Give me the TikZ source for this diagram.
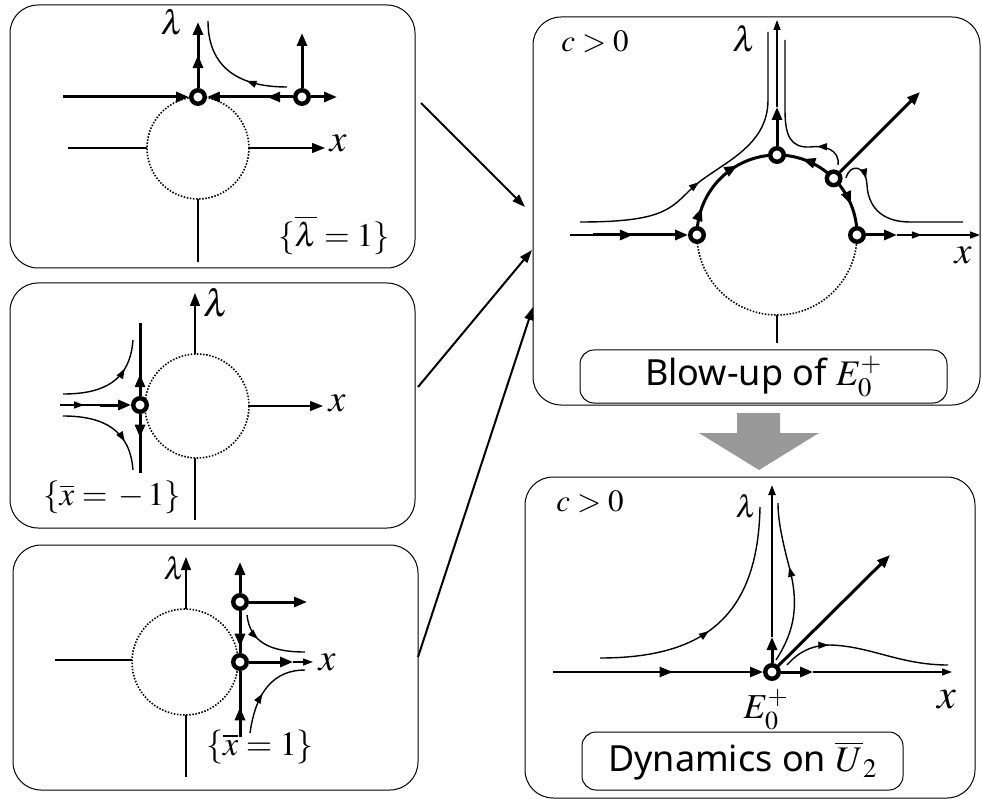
\documentclass[tikz,border=0pt]{standalone}
\usepackage{mathptmx}
\usepackage[no-math]{fontspec}
\setsansfont{Noto Sans}
\usepackage{tikz}
\usetikzlibrary{arrows.meta, positioning, calc, decorations.markings}
\definecolor{arrgray}{HTML}{999999}
\newcommand{\fsz}[1]{\fontsize{#1}{#1}\selectfont}
\tikzset{
  bigtip/.tip={Triangle[length=13pt,width=10pt]},
  smalltip/.tip={Triangle[length=10pt,width=7pt]},
  panel/.style={draw, line width=1pt, rounded corners=28pt, inner sep=0pt, outer sep=0pt},
  tagbox/.style={draw, line width=1pt, rounded corners=14pt, inner sep=0pt,
    font=\sffamily\fsz{36}},
  eqpt/.style={circle, draw, fill=white, line width=4.4pt, minimum size=13.5pt, inner sep=0pt},
  trj/.style={line width=1.4pt},
  axisln/.style={line width=1.4pt},
  midln/.style={line width=2.2pt},
  heavy/.style={line width=3pt},
  dotln/.style={line width=1.6pt, dash pattern=on 1.5pt off 1.6pt},
  fwd/.style={postaction={decorate,decoration={markings,
    mark=at position #1 with {\arrow{bigtip}}}}},
  fwds/.style={postaction={decorate,decoration={markings,
    mark=at position #1 with {\arrow{smalltip}}}}},
  link/.style={line width=2pt, -{Triangle[length=13pt,width=9pt]}},
  lab/.style={font=\fsz{#1}, inner sep=0pt}
}

\begin{document}
\begin{tikzpicture}[x=1pt, y=-1pt]
  \useasboundingbox (0,0) rectangle (982,799);

  % frames
  \node[panel, minimum width=405pt, minimum height=263pt] (pl1) at (212.5,136.5) {};
  \node[panel, minimum width=405pt, minimum height=245pt] (pl2) at (212.5,405.5) {};
  \node[panel, minimum width=405pt, minimum height=245pt] (pl3) at (215.5,667.5) {};
  \node[panel, minimum width=447pt, minimum height=388pt] (pl4) at (756.5,211) {};
  \node[panel, minimum width=450pt, minimum height=321pt] (pl5) at (750,637.5) {};

  % chart {lambda-bar = 1}
  \draw[dotln] (198,148) circle[radius=51];
  \draw[axisln] (68,148) -- (147,148);
  \draw[axisln,-bigtip] (249,148) -- (325,148);
  \draw[axisln] (198,199) -- (198,262);
  \node[eqpt] (a1) at (198,97) {};
  \node[eqpt] (a2) at (302,97) {};
  \draw[heavy,-bigtip] (63,97) -- (a1);
  \draw[heavy,-bigtip,fwd=0.3] (a2) -- (a1);
  \draw[heavy,-bigtip] (a2) -- (337,97);
  \draw[heavy,-bigtip] (a2) -- (302,33);
  \draw[heavy,-bigtip,fwd=0.5] (a1) -- (198,22);
  \draw[trj,fwds=0.35] (287,87) .. controls (232,87) and (208,62) .. (208,21);
  \node[lab=34] (la1) at (172,22) {$\lambda$};
  \node[lab=38] (lx1) at (338,143) {$x$};
  \node[lab=33] (ch1) at (334,235) {$\{\overline{\lambda}=1\}$};

  % chart {x-bar = -1}
  \draw[dotln] (197,406) circle[radius=52];
  \draw[axisln,-bigtip] (249,406) -- (323,406);
  \draw[axisln,-bigtip] (195,354) -- (195,293);
  \draw[axisln] (195,458) -- (195,520);
  \node[eqpt] (b1) at (140,405) {};
  \draw[heavy,fwd=0.3] (b1) -- (140,323);
  \draw[heavy,fwd=0.4] (b1) -- (140,473);
  \draw[trj,fwds=0.6] (60,405) -- (100,405);
  \draw[heavy,-bigtip] (100,405) -- (b1);
  \draw[trj,fwds=0.7] (63,394) .. controls (105,394) and (130,380) .. (133,340);
  \draw[trj,fwds=0.7] (63,416) .. controls (105,416) and (130,431) .. (133,470);
  \node[lab=38] (la2) at (216,303) {$\lambda$};
  \node[lab=38] (lx2) at (337,403) {$x$};
  \node[lab=33] (ch2) at (112,497) {$\{\overline{x}=\,-\,1\}$};

  % chart {x-bar = 1}
  \draw[dotln] (185,662) circle[radius=53];
  \draw[axisln] (55,660) -- (132,660);
  \draw[axisln,-bigtip] (186,609) -- (186,557);
  \draw[axisln] (186,715) -- (186,777);
  \node[eqpt] (c1) at (240,602) {};
  \node[eqpt] (c2) at (240,662) {};
  \draw[heavy,-bigtip] (c1) -- (240,562);
  \draw[heavy,fwd=0.85] (c1) -- (c2);
  \draw[heavy,fwd=0.45] (240,737) -- (c2);
  \draw[heavy,-bigtip] (c1) -- (307,602);
  \draw[heavy,-bigtip] (c2) -- (293,662);
  \draw[trj,-smalltip] (293,662) -- (313,662);
  \draw[trj,fwds=0.35] (247,615) .. controls (250,642) and (270,652) .. (305,652);
  \draw[trj,fwds=0.45] (250,733) .. controls (256,690) and (275,670) .. (305,670);
  \node[lab=31] (la3) at (174,568) {$\lambda$};
  \node[lab=38] (lx3) at (327,662) {$x$};
  \node[lab=34] (ch3) at (260,747) {$\{\overline{x}=1\}$};

  % blow-up of E0+
  \coordinate (dL) at (697,235);
  \coordinate (dT) at (777,155);
  \coordinate (dD) at (833.6,178.4);
  \coordinate (dR) at (857,235);
  \coordinate (dB) at (777,315);
  \draw[dotln] (dR) arc[start angle=0, end angle=180, radius=80];
  \draw[heavy,fwd=0.22,fwd=0.67] (dL) arc[start angle=180, end angle=270, radius=80];
  \draw[heavy,fwd=0.59] (dD) arc[start angle=315, end angle=270, radius=80];
  \draw[heavy,fwd=0.5] (dD) arc[start angle=315, end angle=360, radius=80];
  \draw[axisln] (dB) -- (777,343);
  \node[eqpt] (eL) at (dL) {};
  \node[eqpt] (eT) at (dT) {};
  \node[eqpt] (eD) at (dD) {};
  \node[eqpt] (eR) at (dR) {};
  \draw[trj] (570,235) -- (593,235);
  \draw[heavy,-bigtip,fwd=0.42] (593,235) -- (eL);
  \draw[heavy,-bigtip] (eR) -- (897,235);
  \draw[trj,-smalltip,fwds=0.3] (897,235) -- (980,235);
  \draw[heavy,-bigtip] (eT) -- (777,107);
  \draw[trj,-smalltip] (777,107) -- (777,20);
  \draw[heavy,-bigtip] (eD) -- (920,92);
  \draw[trj,fwds=0.42] (580,222) .. controls (660,222) and (670,210) .. (690,190)
    .. controls (715,165) and (768,150) .. (768,100) -- (768,32);
  \draw[trj,fwds=0.2] (838,165) .. controls (840,150) and (825,145) .. (810,147)
    .. controls (790,148) and (785,135) .. (785,110) -- (785,40);
  \draw[trj,fwds=0.2] (846,178) .. controls (850,163) and (866,165) .. (867,185)
    .. controls (868,205) and (880,222) .. (910,222) -- (963,222);
  \node[lab=31] (cp1) at (595,42) {$c>0$};
  \node[lab=35] (la4) at (744,39) {$\lambda$};
  \node[lab=38] (lx4) at (963,255) {$x$};
  \node[tagbox, minimum width=367pt, minimum height=53pt] (tg1) at (763.5,376.5)
    {Blow-up of $E_0^+$};

  % step down
  \fill[arrgray] (737,413) -- (780,413) -- (780,433) -- (819,433) -- (759,470)
    -- (699,433) -- (737,433) -- cycle;

  % dynamics on U2
  \node[eqpt] (eE) at (772,672) {};
  \draw[midln,-bigtip,fwd=0.57] (553,672) -- (eE);
  \draw[heavy,-bigtip] (eE) -- (813,672);
  \draw[trj,-smalltip] (813,672) -- (952,672);
  \draw[heavy,-bigtip] (eE) -- (772,637);
  \draw[midln,-smalltip] (772,637) -- (772,485);
  \draw[heavy,-bigtip] (eE) -- (890,555);
  \draw[trj,fwds=0.45] (600,658) .. controls (700,658) and (758,620) .. (760,507);
  \draw[trj,fwds=0.6] (776,660) .. controls (792,635) and (800,610) .. (790,570)
    .. controls (782,540) and (778,520) .. (778,503);
  \draw[trj,fwds=0.28] (787,665) .. controls (800,650) and (815,645) .. (830,645)
    .. controls (870,646) and (900,665) .. (948,665);
  \node[lab=31] (cp2) at (590,502) {$c>0$};
  \node[lab=31] (la5) at (746,506) {$\lambda$};
  \node[lab=42] (lx5) at (947,700) {$x$};
  \node[lab=35] (le5) at (766,710) {$E_0^+$};
  \node[tagbox, minimum width=321pt, minimum height=58pt] (tg2) at (742.5,761)
    {Dynamics on $\overline{U}_2$};

  % charts into the blow-up
  \draw[link] ([xshift=6pt,yshift=33.5pt]pl1.east) -- ([xshift=-8pt,yshift=4pt]pl4.west);
  \draw[link] ([xshift=3pt,yshift=18.5pt]pl2.east) -- ([xshift=-1pt,yshift=-39pt]pl4.west);
  \draw[link] ([yshift=10.5pt]pl3.east) -- ([yshift=-96pt]pl4.west);
\end{tikzpicture}
\end{document}
